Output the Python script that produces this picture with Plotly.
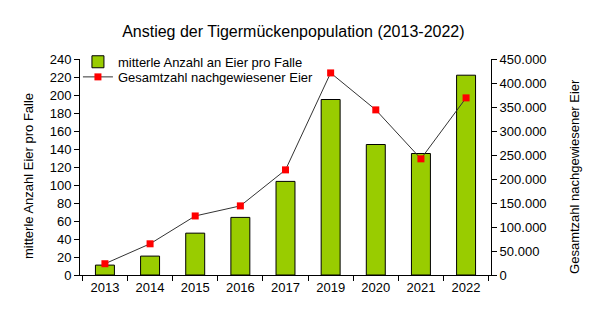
import plotly.graph_objects as go

years = ["2013", "2014", "2015", "2016", "2017", "2019", "2020", "2021", "2022"]
mean_eggs = [11, 21, 46.5, 64, 104, 195, 145, 135, 222]
total_eggs = [23500, 65000, 123000, 144000, 219000, 421000, 344000, 242000, 369000]

left_ticks = list(range(0, 241, 20))
right_ticks = list(range(0, 450001, 50000))

FONT = "Liberation Sans, Arial, sans-serif"

fig = go.Figure()
fig.add_trace(go.Bar(
    x=years, y=mean_eggs, name="mitterle Anzahl an Eier pro Falle",
    marker=dict(color="#99cc00", line=dict(color="black", width=1)),
    yaxis="y", legend="legend",
))
fig.add_trace(go.Scatter(
    x=years, y=total_eggs, name="Gesamtzahl nachgewiesener Eier",
    mode="lines+markers",
    line=dict(color="#333333", width=1),
    marker=dict(symbol="square", color="#ff0000", size=7),
    yaxis="y2", legend="legend2",
))

leg_common = dict(xanchor="left", yanchor="middle", bgcolor="rgba(0,0,0,0)",
                  font=dict(size=13, color="black"), borderwidth=0)

fig.update_layout(
    width=615, height=331,
    margin=dict(l=80, r=124, t=59, b=56),
    paper_bgcolor="white", plot_bgcolor="white",
    font=dict(family=FONT, size=13, color="black"),
    separators=",.",
    bargap=0.58,
    title=dict(text="Anstieg der Tigermückenpopulation (2013-2022)",
               x=0.477, xanchor="center", y=0.905, yanchor="middle", yref="container",
               font=dict(size=16, color="black")),
    xaxis=dict(type="category", showline=True, linecolor="black", linewidth=1,
               ticks="outside", ticklen=5, tickcolor="black", tickson="boundaries",
               showgrid=False, tickfont=dict(size=13)),
    yaxis=dict(range=[0, 240], tickvals=left_ticks, showline=True, linecolor="black",
               linewidth=1, ticks="outside", ticklen=5, tickcolor="black", showgrid=False,
               zeroline=False),
    yaxis2=dict(range=[0, 450000], tickvals=right_ticks, tickformat=",d", overlaying="y",
                side="right", showline=True, linecolor="black", linewidth=1, ticks="outside",
                ticklen=5, tickcolor="black", showgrid=False, zeroline=False),
    legend=dict(x=-0.005, y=0.987, **leg_common),
    legend2=dict(x=-0.005, y=0.917, **leg_common),
    showlegend=True,
    annotations=[
        dict(text="mitterle Anzahl Eier pro Falle", textangle=-90, xref="paper", yref="paper",
             x=-0.1265, y=0.458, xanchor="center", yanchor="middle", showarrow=False,
             font=dict(size=13, color="black")),
        dict(text="Gesamtzahl nachgewiesener Eier", textangle=-90, xref="paper", yref="paper",
             x=1.2044, y=0.454, xanchor="center", yanchor="middle", showarrow=False,
             font=dict(size=13, color="black")),
    ],
)

fig.write_html("out.html")
